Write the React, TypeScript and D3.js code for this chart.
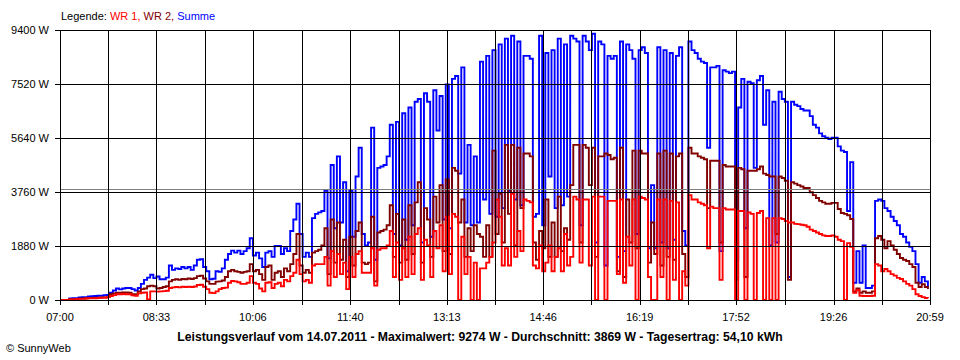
import React from 'react';
import * as d3 from 'd3';

// time axis labels (every second grid line carries one)
const timeLabels = ['07:00', '08:33', '10:06', '11:40', '13:13', '14:46', '16:19', '17:52', '19:26', '20:59'];
const powerTicks = [0, 1880, 3760, 5640, 7520, 9400];
const averageW = 3869;
const sampleStep = 3; // minutes between samples, starting 07:00

const legendItems = [
  { label: 'WR 1', color: '#ff0000' },
  { label: 'WR 2', color: '#800000' },
  { label: 'Summe', color: '#0000ff' },
];

const title =
  'Leistungsverlauf vom 14.07.2011 - Maximalwert: 9274 W - Durchschnitt: 3869 W - Tagesertrag: 54,10 kWh';

// Summe (blue)
const summe = [
  0, 0, 0, 50, 60, 60, 90, 100, 100, 120,
  130, 140, 150, 150, 170, 180, 250, 330, 400, 370,
  400, 420, 420, 380, 330, 420, 560, 700, 780, 880,
  760, 820, 720, 720, 780, 1200, 1050, 1100, 1080, 1150,
  1100, 1150, 1050, 1200, 1400, 1420, 1150, 1000, 720, 740,
  1000, 980, 1100, 1400, 1600, 1720, 1650, 1720, 1600, 1700,
  1800, 2150, 1550, 1650, 1450, 1150, 1650, 1700, 1500, 1880,
  1880, 1600, 1800, 1700, 2400, 2800, 3350, 2300, 1500, 1650,
  1500, 2850, 3000, 3050, 3100, 3800, 1450, 4700, 2500, 5000,
  2700, 4100, 1000, 3800, 2200, 4300, 5300, 2300, 1900, 2000,
  6000, 1400, 4600, 4650, 4700, 5000, 6100, 2300, 6200, 1900,
  6500, 2100, 6700, 2600, 6900, 7000, 2000, 7200, 6900, 2200,
  7300, 5900, 7100, 2800, 7500, 2500, 7700, 7800, 4400, 8100,
  2700, 5400, 2600, 5000, 2700, 8300, 3500, 8500, 3000, 8700,
  2900, 8900, 3200, 9100, 3800, 9200, 3500, 9000, 3300, 8500,
  8500, 8400, 2900, 3000, 9200, 2600, 8600, 4300, 8700, 3200,
  9100, 3300, 8900, 3600, 9200, 9100, 9000, 2600, 9200, 9000,
  8700, 9270, 2000, 9000, 8900, 1200, 8500, 8400, 8500, 1500,
  9000, 1700, 8900, 8700, 8400, 2300, 8700, 8800, 8600, 1800,
  4000, 1800, 8800, 2000, 8700, 1800, 8600, 2100, 8500, 8800,
  2400, 1900, 9000, 8700, 8600, 8400, 8300, 8250, 5300, 8100,
  8100, 8150, 1700, 8000, 7950, 7900, 7950, 1400, 6700, 7700,
  2500, 7600, 7550, 4600, 7650, 7800, 6100, 7300, 1900, 6900,
  2000, 7250, 7000, 6900, 800, 6900, 6800, 6750, 6650, 6600,
  6600, 6400, 6100, 6000, 5800, 5700, 5650, 5600, 5650, 5650,
  5350, 5200, 5150, 3100, 4800, 600, 1700, 600, 1900, 420,
  420, 500, 3450, 3500, 3450, 3200, 3100, 2900, 2750, 2600,
  2300, 2200, 2000, 1850, 1700, 1250, 600, 800, 650, 450,
];

// WR 2 (dark red)
const wr2 = [
  0, 0, 0, 30, 30, 40, 50, 50, 60, 70,
  70, 80, 80, 90, 90, 100, 200, 230, 250, 250,
  260, 260, 250, 200, 200, 300, 380, 400, 480, 500,
  480, 400, 420, 450, 480, 650, 700, 720, 700, 730,
  720, 750, 730, 760, 830, 850, 750, 650, 560, 560,
  640, 650, 680, 800, 1000, 1050, 1000, 980, 950, 980,
  1000, 1250, 1000, 1050, 900, 700, 1150, 1200, 700, 950,
  1000, 800, 1100, 1000, 1250, 1600, 2300, 1200, 950, 1050,
  950, 1650, 1700, 1750, 1900, 2500, 900, 2800, 1300, 2700,
  1400, 2100, 800, 2200, 1200, 2400, 2700, 1300, 1250, 1300,
  2900, 650, 2350, 2400, 2450, 2600, 3300, 1500, 3000, 1300,
  2800, 1400, 3300, 1600, 3400, 4100, 1300, 3200, 2800, 1500,
  3600, 2700, 4000, 1700, 4200, 1600, 4600, 4500, 2700, 3500,
  1500, 2500, 1700, 2600, 2300, 2200, 1500, 2600, 1500, 5200,
  2300, 3700, 2000, 5400, 3000, 5400, 1900, 5300, 3200, 5100,
  5100, 5000, 2000, 1400, 2400, 1800, 3500, 1500, 2700, 1500,
  3600, 1700, 2500, 2100, 4000, 5400, 5400, 2000, 5400, 5300,
  4000, 5300, 1500, 5000, 5000, 5100, 5050, 4900, 4950, 1000,
  5300, 800, 3500, 2000, 5200, 1800, 5200, 5100, 5100, 1300,
  2700, 1600, 5100, 1200, 5200, 1500, 5100, 1400, 5000, 5100,
  1600, 800, 5300, 5100, 5100, 5000, 4950, 4900, 3200, 4850,
  4850, 4850, 2000, 4700, 4650, 4650, 4650, 700, 4600, 4550,
  800, 4500, 4500, 4500, 4550, 4650, 4400, 4350, 4300, 4300,
  2300, 4300, 4250, 4150, 700, 4100, 4050, 4000, 3950, 3900,
  3900, 3750, 3650, 3550, 3450, 3400, 3350, 3350, 3380, 3380,
  3170, 3030, 3000, 2950, 2820, 300, 400, 250, 300, 250,
  250, 300, 2150, 2230, 2100, 1800, 2050, 1900, 1750, 1600,
  1460, 1400, 1360, 1250, 1150, 600, 450, 550, 450, 380,
];

// WR 1 (red)
const wr1 = [
  0, 0, 0, 20, 20, 30, 40, 40, 50, 60,
  60, 60, 70, 80, 80, 100, 140, 170, 200, 200,
  210, 200, 200, 160, 150, 230, 250, 260, 20, 300,
  300, 290, 300, 310, 320, 420, 440, 450, 440, 460,
  450, 460, 450, 470, 520, 530, 460, 380, 250, 240,
  300, 380, 420, 430, 600, 660, 650, 620, 560, 560,
  600, 830, 600, 560, 400, 300, 600, 620, 420, 560,
  600, 480, 700, 650, 830, 950, 1400, 900, 650, 700,
  600, 1200, 1250, 1250, 1250, 1500, 500, 1700, 800, 1600,
  900, 1300, 380, 1500, 800, 1600, 1700, 950, 950, 950,
  1800, 500, 1750, 1800, 1800, 1900, 2400, 800, 2000, 700,
  1800, 800, 2200, 900, 2300, 2500, 700, 2100, 1900, 800,
  2400, 1800, 2600, 1000, 2900, 900, 3000, 2900, 0, 2200,
  900, 1500, 0, 1300, 0, 1100, 1100, 1300, 1500, 2000,
  3500, 2900, 1200, 1800, 1200, 3700, 1500, 2400, 1700, 3500,
  3450, 3400, 1200, 1100, 1900, 1000, 1300, 1900, 1000, 1500,
  1800, 1000, 2300, 1200, 1500, 3600, 3500, 1300, 3500, 3500,
  1200, 3600, 0, 3600, 3600, 0, 3450, 3450, 3450, 900,
  3500, 600, 2200, 1200, 3500, 0, 3600, 3550, 3500, 800,
  0, 0, 3500, 800, 3500, 0, 3450, 700, 3400, 0,
  1000, 500, 3650, 3500, 3500, 3400, 3350, 3300, 1800, 3250,
  3200, 3200, 700, 3200, 3150, 3150, 3150, 0, 3100, 3100,
  0, 3050, 3000, 0, 3030, 3100, 0, 2850, 0, 2850,
  0, 2850, 2820, 2750, 2700, 2700, 2650, 2640, 2620, 2600,
  2550, 2450, 2400, 2350, 2300, 2250, 2230, 2230, 2250, 2200,
  2100, 2050, 0, 1980, 1850, 250, 350, 150, 140, 140,
  140, 150, 1250, 1200, 1000, 1080, 1000, 900, 850, 770,
  730, 650, 560, 500, 380, 200, 140, 100, 70, 60,
];

const toMinutes = (t: string) => {
  const [h, m] = t.split(':').map(Number);
  return (h - 7) * 60 + m;
};

const font = '"Liberation Sans", Arial, sans-serif';

export default function App() {
  const width = 960;
  const height = 360;
  const plot = { left: 60, right: 930, top: 30, bottom: 300 };

  const labelMinutes = timeLabels.map(toMinutes);
  const x = d3.scaleLinear().domain([0, labelMinutes[labelMinutes.length - 1]]).range([plot.left, plot.right]);
  const y = d3.scaleLinear().domain([0, 9400]).range([plot.bottom, plot.top]);

  // one grid line at each label and one midway between labels
  const gridMinutes: number[] = [];
  labelMinutes.forEach((m, i) => {
    gridMinutes.push(m);
    if (i < labelMinutes.length - 1) gridMinutes.push((m + labelMinutes[i + 1]) / 2);
  });

  const line = d3
    .line<number>()
    .x((_, i) => x(i * sampleStep))
    .y((d) => y(d))
    .curve(d3.curveStepAfter);

  const crisp = (v: number) => Math.round(v) + 0.5;

  const series = [
    { data: summe, color: '#0000ff' },
    { data: wr2, color: '#800000' },
    { data: wr1, color: '#ff0000' },
  ];

  return (
    <svg
      width={width}
      height={height}
      style={{ position: 'absolute', left: 0, top: 0, background: '#fff' }}
      fontFamily={font}
    >
      <rect width={width} height={height} fill="#fff" />

      {/* legend */}
      <text x={61} y={20} fontSize={11}>
        <tspan fill="#000">Legende: </tspan>
        {legendItems.map((d, i) => (
          <tspan key={d.label} fill={d.color}>
            {d.label}
            {i < legendItems.length - 1 ? ', ' : ''}
          </tspan>
        ))}
      </text>

      {/* data lines */}
      {series.map((s) => (
        <path key={s.color} d={line(s.data) || ''} fill="none" stroke={s.color} strokeWidth={1.9} />
      ))}

      {/* horizontal grid + y ticks */}
      {powerTicks.map((t) => (
        <g key={t}>
          <line x1={plot.left - 5} x2={plot.right} y1={crisp(y(t))} y2={crisp(y(t))} stroke="#000" />
          <text x={49} y={y(t) + 4} fontSize={11} textAnchor="end" fill="#000">
            {t} W
          </text>
        </g>
      ))}

      {/* average line */}
      <line x1={plot.left} x2={plot.right} y1={crisp(y(averageW))} y2={crisp(y(averageW))} stroke="#808080" />

      {/* vertical grid + x ticks */}
      {gridMinutes.map((m) => (
        <line key={m} x1={crisp(x(m))} x2={crisp(x(m))} y1={plot.top} y2={plot.bottom + 5} stroke="#000" />
      ))}
      {timeLabels.map((t, i) => (
        <text key={t} x={x(labelMinutes[i])} y={321} fontSize={11} textAnchor="middle" fill="#000">
          {t}
        </text>
      ))}

      <text x={480} y={341} fontSize={12.2} fontWeight="bold" textAnchor="middle" fill="#000">
        {title}
      </text>
      <text x={6} y={352} fontSize={11} fill="#000">
        © SunnyWeb
      </text>
    </svg>
  );
}
